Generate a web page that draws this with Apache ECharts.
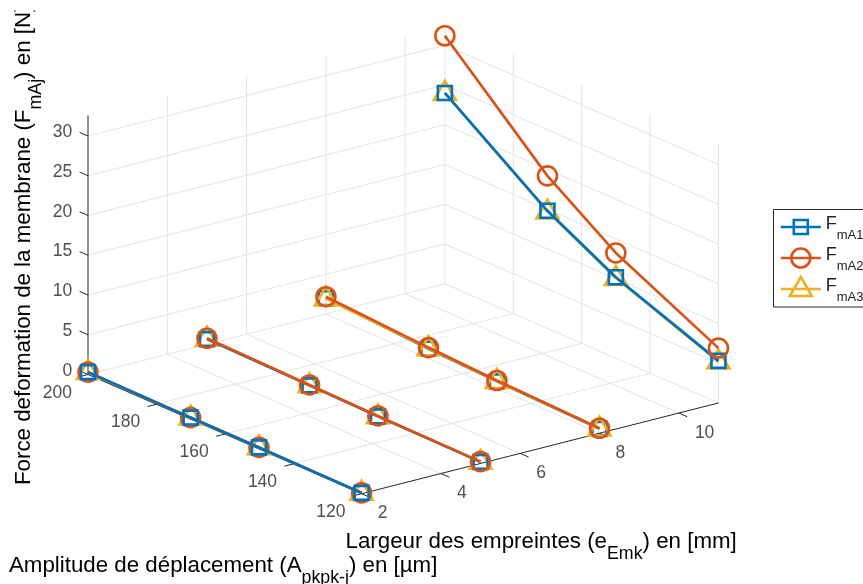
<!DOCTYPE html>
<html><head><meta charset="utf-8">
<style>html,body{margin:0;padding:0;background:#fff;overflow:hidden}#c{width:863px;height:584px}</style>
<script src="https://cdn.jsdelivr.net/npm/echarts@6/dist/echarts.min.js"></script>
</head><body><div id="c"></div>
<script>
// ---- data ----
const amplitudes = [200, 170, 150, 120];      // A_pkpk-j in µm
const widths = [2, 5, 8, 11];                 // e_Emk in mm
const FmA1 = [[0.3,0.2,0.2,0.1],[0.65,0.45,0.3,0.2],[2.0,1.25,0.9,0.55],[24.0,14.8,10.2,5.3]];
const FmA2 = [[0.3,0.2,0.2,0.1],[0.75,0.5,0.35,0.23],[2.18,1.4,1.0,0.62],[31.2,19.2,13.25,6.9]];
const FmA3 = [[0.3,0.2,0.2,0.1],[0.7,0.45,0.3,0.2],[1.95,1.3,0.95,0.58],[24.0,14.7,10.1,5.2]];
const eTicks = [2,4,6,8,10];
const aTicks = [200,180,160,140,120];
const zTicks = [0,5,10,15,20,25,30];
const eMax = 11, zMax = 32.6;
const names = ['FmA1','FmA2','FmA3'];
const colors = ['#0072BD','#D95319','#EDB120'];

// orthographic view of the 3-D box
function P(e, A, z){
  return [88 + (e-2)*39.65 + (200-A)*3.42,
          374.5 - (e-2)*10.08 + (200-A)*1.49 - z*7.95];
}
const GAP = ['-','-'];
const segs = list => list.flatMap(s => [P(...s[0]), P(...s[1]), GAP]);

const gridSegs = [];
zTicks.forEach(z => { gridSegs.push([[2,200,z],[eMax,200,z]]); gridSegs.push([[eMax,200,z],[eMax,120,z]]); });
[4,6,8,10].forEach(e => { gridSegs.push([[e,200,0],[e,200,zMax]]); gridSegs.push([[e,200,0],[e,120,0]]); });
aTicks.forEach(A => gridSegs.push([[eMax,A,0],[eMax,A,zMax]]));
[180,160,140].forEach(A => gridSegs.push([[2,A,0],[eMax,A,0]]));

const axisSegs = [[[2,200,0],[2,200,zMax]],[[2,200,0],[2,120,0]],[[2,120,0],[eMax,120,0]]];
zTicks.forEach(z => axisSegs.push([[2,200,z],[2,202.45,z]]));
aTicks.forEach(A => axisSegs.push([[2,A,0],[1.78,A,0]]));
eTicks.forEach(e => axisSegs.push([[e,120,0],[e,117.55,0]]));

const FONT = '"Liberation Sans",Arial,sans-serif';
const tickFont = {fontFamily:FONT, fontSize:17.5, color:'#222'};
function labels(values, toPoint, align, dx, dy){
  return {type:'scatter', symbol:'circle', symbolSize:0, silent:true, z:4, clip:false,
    data: values.map(v => ({value: toPoint(v), name:String(v)})),
    label:{show:true, formatter:'{b}', position:[dx,dy], align, verticalAlign:'middle', ...tickFont}};
}

const shapes = ['rect','circle','triangle'];
const sizes = [[14,14],[19,19],[22,19]];
const offsets = [[0,0],[0,0],[0,-2.5]];
const tables = [FmA1,FmA2,FmA3];
// paint order of the three series on each strand (bottom to top)
const order = [[2,1,0],[2,0,1],[0,2,1],[2,0,1]];

const dataSeries = [];
widths.forEach((e,ei) => order[ei].forEach((s,rank) => {
  dataSeries.push({
    type:'line', name:names[s], z:10+ei*3+rank, clip:false, silent:true,
    data: amplitudes.map((A,ai) => P(e,A,tables[s][ei][ai])),
    showSymbol:true, showAllSymbols:true, symbol:shapes[s], symbolSize:sizes[s], symbolOffset:offsets[s],
    lineStyle:{color:colors[s], width:2.7},
    itemStyle:{color:'transparent', borderColor:colors[s], borderWidth:2.6},
    emphasis:{disabled:true}
  });
}));

const legendIcons = [
  'path://M0 0M40 24M0 12H40M13 5H27V19H13Z',
  'path://M0 0M40 24M0 12H40M29.5 12A9.5 9.5 0 1 1 10.5 12A9.5 9.5 0 1 1 29.5 12Z',
  'path://M0 0M40 24M0 12H40M20 0L31 19H9Z'
];
const legendRich = {
  m:{fontFamily:FONT, fontSize:18, lineHeight:20, padding:[3,0,0,0], verticalAlign:'top', color:'#222'},
  s:{fontFamily:FONT, fontSize:13, lineHeight:30, padding:[15,0,0,0], verticalAlign:'bottom', color:'#222'}
};
const titleRich = {
  m:{fontFamily:FONT, fontSize:22.3, lineHeight:24, verticalAlign:'top', color:'#222'},
  s:{fontFamily:FONT, fontSize:17.8, lineHeight:33, padding:[15,0,0,0], verticalAlign:'bottom', color:'#222'}
};
const title = (text,x,y,rotation) => ({type:'text', x, y, rotation:rotation||0, z:30,
  style:{text, rich:titleRich, align:'left', verticalAlign:'middle'}});

const chart = echarts.init(document.getElementById('c'), null, {renderer:'canvas'});
chart.setOption({
  animation:false, backgroundColor:'#fff',
  grid:{left:0,top:0,right:0,bottom:0},
  xAxis:{type:'value',min:0,max:863,show:false},
  yAxis:{type:'value',min:0,max:584,inverse:true,show:false},
  tooltip:{show:false},
  legend:{
    orient:'vertical', left:773.5, top:209.5, padding:[2.5,6,3,6], itemGap:1, itemWidth:40, itemHeight:24,
    borderColor:'#262626', borderWidth:1, backgroundColor:'#fff', selectedMode:false,
    data:names.map((n,i)=>({name:n, icon:legendIcons[i], itemStyle:{color:'transparent',borderColor:colors[i],borderWidth:2.6}})),
    formatter:n=>'{m|F}{s|'+n.slice(1)+'}',
    textStyle:{rich:legendRich}
  },
  graphic:[
    title('{m|Largeur des empreintes (e}{s|Emk}{m|) en [mm]}', 345.5, 547),
    title('{m|Amplitude de déplacement (A}{s|pkpk-j}{m|) en [µm]}', 9, 571),
    title('{m|Force deformation de la membrane (F}{s|mAj}{m|) en [N]}', 29, 485, Math.PI/2),
    {type:'rect', shape:{x:0,y:0,width:60,height:10.5}, style:{fill:'#fff'}, z:31, silent:true}
  ],
  series:[
    {type:'line', data:segs(gridSegs), symbol:'none', silent:true, clip:false, z:1, connectNulls:false,
     lineStyle:{color:'#E4E4E4', width:1}},
    {type:'line', data:segs(axisSegs), symbol:'none', silent:true, clip:false, z:3, connectNulls:false,
     lineStyle:{color:'#262626', width:1}},
    labels(zTicks, z=>P(2,202.45,z), 'right', -7.5, 0),
    labels(aTicks, A=>P(1.78,A,0), 'center', -22, 16),
    labels(eTicks, e=>P(e,117.55,0), 'left', 7.7, 16),
    ...dataSeries
  ]
});
</script></body></html>
